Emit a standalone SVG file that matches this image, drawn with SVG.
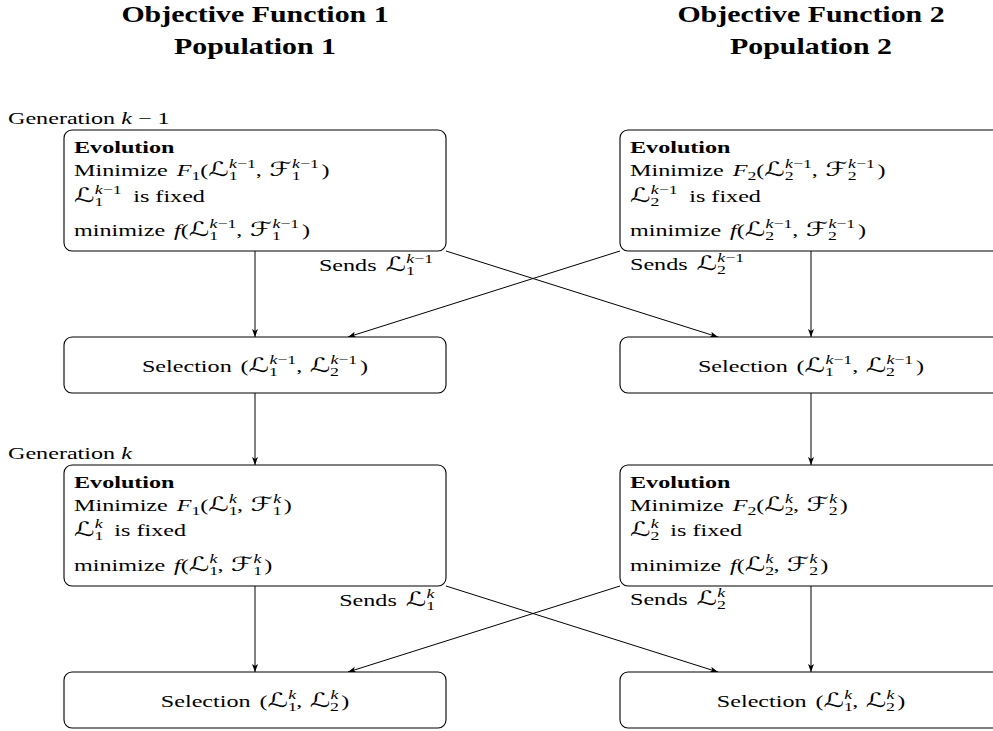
<svg xmlns="http://www.w3.org/2000/svg" width="993" height="731" viewBox="0 0 993 731">
<style>
.t{font-family:"Liberation Serif","Times New Roman",serif;font-size:17px;fill:#000}
.ttl{font-family:"Liberation Serif","Times New Roman",serif;font-weight:bold;font-size:23px;text-anchor:middle;fill:#000}
.b{font-weight:bold}
.i{font-style:italic}
.sc{font-family:"DejaVu Serif","DejaVu Sans",serif;font-size:20px;font-style:italic}
.sm{font-size:12.5px}
.mid{text-anchor:middle}
.end{text-anchor:end}
.box{fill:#fff;stroke:#000;stroke-width:1.1}
.conn{stroke:#000;stroke-width:1;fill:none;marker-end:url(#ah)}
</style>
<defs>
<marker id="ah" viewBox="0 0 8 6" refX="8" refY="3" markerWidth="8" markerHeight="6" orient="auto" markerUnits="userSpaceOnUse">
<path d="M0,0 L8,3 L0,6 L2,3 Z" fill="#000"/>
</marker>
</defs>
<rect width="993" height="731" fill="#fff"/>

<g id="titles">
<g transform="translate(255,0) scale(1.3,1)">
<text class="ttl" x="0" y="22">Objective Function 1</text>
<text class="ttl" x="0" y="54">Population 1</text>
</g>
<g transform="translate(811,0) scale(1.3,1)">
<text class="ttl" x="0" y="22">Objective Function 2</text>
<text class="ttl" x="0" y="54">Population 2</text>
</g>
</g>

<g id="gen-labels">
<g transform="translate(8,124) scale(1.42,1)"><text class="t" x="0" y="0">Generation <tspan class="i">k</tspan> − 1</text></g>
<g transform="translate(8,459) scale(1.42,1)"><text class="t" x="0" y="0">Generation <tspan class="i">k</tspan></text></g>
</g>

<g id="connectors">
<line class="conn" x1="255" y1="251" x2="255" y2="337"/>
<line class="conn" x1="811" y1="251" x2="811" y2="337"/>
<line class="conn" x1="446" y1="251" x2="718" y2="337"/>
<line class="conn" x1="620" y1="251" x2="348" y2="337"/>
<line class="conn" x1="255" y1="393" x2="255" y2="465"/>
<line class="conn" x1="811" y1="393" x2="811" y2="465"/>
<line class="conn" x1="255" y1="586" x2="255" y2="672"/>
<line class="conn" x1="811" y1="586" x2="811" y2="672"/>
<line class="conn" x1="446" y1="586" x2="718" y2="672"/>
<line class="conn" x1="620" y1="586" x2="348" y2="672"/>
<g transform="translate(433,271) scale(1.42,1)"><text class="t end" x="0" y="0">Sends <tspan class="sc" dx="2">ℒ</tspan><tspan class="sm" dy="4">1</tspan><tspan class="sm" dx="-6" dy="-12"><tspan class="i">k</tspan>−1</tspan></text></g>
<g transform="translate(630,270) scale(1.42,1)"><text class="t" x="0" y="0">Sends <tspan class="sc" dx="2">ℒ</tspan><tspan class="sm" dy="4">2</tspan><tspan class="sm" dx="-6" dy="-12"><tspan class="i">k</tspan>−1</tspan></text></g>
<g transform="translate(435,606) scale(1.42,1)"><text class="t end" x="0" y="0">Sends <tspan class="sc" dx="2">ℒ</tspan><tspan class="sm" dy="4">1</tspan><tspan class="sm i" dx="-6" dy="-12">k</tspan></text></g>
<g transform="translate(630,605) scale(1.42,1)"><text class="t" x="0" y="0">Sends <tspan class="sc" dx="2">ℒ</tspan><tspan class="sm" dy="4">2</tspan><tspan class="sm i" dx="-6" dy="-12">k</tspan></text></g>
</g>

<g id="evo1-k1">
<rect class="box" x="64" y="130" width="382" height="121" rx="8"/>
<g transform="translate(74,130) scale(1.42,1)">
<text class="t b" x="0" y="22.7">Evolution</text>
<text class="t" x="0" y="46.5">Minimize <tspan class="i" dx="2">F</tspan><tspan class="sm" dy="4">1</tspan><tspan dy="-4">(</tspan><tspan class="sc">ℒ</tspan><tspan class="sm" dy="4">1</tspan><tspan class="sm" dx="-6" dy="-12"><tspan class="i">k</tspan>−1</tspan><tspan dy="8">, </tspan><tspan class="sc" dx="1">ℱ</tspan><tspan class="sm" dy="4">1</tspan><tspan class="sm" dx="-6" dy="-12"><tspan class="i">k</tspan>−1</tspan><tspan dy="8" dx="2">)</tspan></text>
<text class="t" x="0" y="72"><tspan class="sc">ℒ</tspan><tspan class="sm" dy="4">1</tspan><tspan class="sm" dx="-6" dy="-12"><tspan class="i">k</tspan>−1</tspan><tspan dy="8" dx="4"> is fixed</tspan></text>
<text class="t" x="0" y="106.5">minimize <tspan class="i" dx="2">f</tspan>(<tspan class="sc">ℒ</tspan><tspan class="sm" dy="4">1</tspan><tspan class="sm" dx="-6" dy="-12"><tspan class="i">k</tspan>−1</tspan><tspan dy="8">, </tspan><tspan class="sc" dx="1">ℱ</tspan><tspan class="sm" dy="4">1</tspan><tspan class="sm" dx="-6" dy="-12"><tspan class="i">k</tspan>−1</tspan><tspan dy="8" dx="2">)</tspan></text>
</g>
</g>

<g id="evo2-k1">
<rect class="box" x="620" y="130" width="382" height="121" rx="8"/>
<g transform="translate(630,130) scale(1.42,1)">
<text class="t b" x="0" y="22.7">Evolution</text>
<text class="t" x="0" y="46.5">Minimize <tspan class="i" dx="2">F</tspan><tspan class="sm" dy="4">2</tspan><tspan dy="-4">(</tspan><tspan class="sc">ℒ</tspan><tspan class="sm" dy="4">2</tspan><tspan class="sm" dx="-6" dy="-12"><tspan class="i">k</tspan>−1</tspan><tspan dy="8">, </tspan><tspan class="sc" dx="1">ℱ</tspan><tspan class="sm" dy="4">2</tspan><tspan class="sm" dx="-6" dy="-12"><tspan class="i">k</tspan>−1</tspan><tspan dy="8" dx="2">)</tspan></text>
<text class="t" x="0" y="72"><tspan class="sc">ℒ</tspan><tspan class="sm" dy="4">2</tspan><tspan class="sm" dx="-6" dy="-12"><tspan class="i">k</tspan>−1</tspan><tspan dy="8" dx="4"> is fixed</tspan></text>
<text class="t" x="0" y="106.5">minimize <tspan class="i" dx="2">f</tspan>(<tspan class="sc">ℒ</tspan><tspan class="sm" dy="4">2</tspan><tspan class="sm" dx="-6" dy="-12"><tspan class="i">k</tspan>−1</tspan><tspan dy="8">, </tspan><tspan class="sc" dx="1">ℱ</tspan><tspan class="sm" dy="4">2</tspan><tspan class="sm" dx="-6" dy="-12"><tspan class="i">k</tspan>−1</tspan><tspan dy="8" dx="2">)</tspan></text>
</g>
</g>

<g id="sel1-k1">
<rect class="box" x="64" y="337" width="382" height="56" rx="8"/>
<g transform="translate(255,372) scale(1.42,1)">
<text class="t mid" x="0" y="0">Selection <tspan dx="2">(</tspan><tspan class="sc">ℒ</tspan><tspan class="sm" dy="4">1</tspan><tspan class="sm" dx="-6" dy="-12"><tspan class="i">k</tspan>−1</tspan><tspan dy="8">, </tspan><tspan class="sc" dx="1">ℒ</tspan><tspan class="sm" dy="4">2</tspan><tspan class="sm" dx="-6" dy="-12"><tspan class="i">k</tspan>−1</tspan><tspan dy="8" dx="2">)</tspan></text>
</g>
</g>

<g id="sel2-k1">
<rect class="box" x="620" y="337" width="382" height="56" rx="8"/>
<g transform="translate(811,372) scale(1.42,1)">
<text class="t mid" x="0" y="0">Selection <tspan dx="2">(</tspan><tspan class="sc">ℒ</tspan><tspan class="sm" dy="4">1</tspan><tspan class="sm" dx="-6" dy="-12"><tspan class="i">k</tspan>−1</tspan><tspan dy="8">, </tspan><tspan class="sc" dx="1">ℒ</tspan><tspan class="sm" dy="4">2</tspan><tspan class="sm" dx="-6" dy="-12"><tspan class="i">k</tspan>−1</tspan><tspan dy="8" dx="2">)</tspan></text>
</g>
</g>

<g id="evo1-k">
<rect class="box" x="64" y="465" width="382" height="121" rx="8"/>
<g transform="translate(74,465) scale(1.42,1)">
<text class="t b" x="0" y="22.7">Evolution</text>
<text class="t" x="0" y="46.5">Minimize <tspan class="i" dx="2">F</tspan><tspan class="sm" dy="4">1</tspan><tspan dy="-4">(</tspan><tspan class="sc">ℒ</tspan><tspan class="sm" dy="4">1</tspan><tspan class="sm i" dx="-6" dy="-12">k</tspan><tspan dy="8">, </tspan><tspan class="sc" dx="1">ℱ</tspan><tspan class="sm" dy="4">1</tspan><tspan class="sm i" dx="-6" dy="-12">k</tspan><tspan dy="8" dx="2">)</tspan></text>
<text class="t" x="0" y="71"><tspan class="sc">ℒ</tspan><tspan class="sm" dy="4">1</tspan><tspan class="sm i" dx="-6" dy="-12">k</tspan><tspan dy="8" dx="4"> is fixed</tspan></text>
<text class="t" x="0" y="106.5">minimize <tspan class="i" dx="2">f</tspan>(<tspan class="sc">ℒ</tspan><tspan class="sm" dy="4">1</tspan><tspan class="sm i" dx="-6" dy="-12">k</tspan><tspan dy="8">, </tspan><tspan class="sc" dx="1">ℱ</tspan><tspan class="sm" dy="4">1</tspan><tspan class="sm i" dx="-6" dy="-12">k</tspan><tspan dy="8" dx="2">)</tspan></text>
</g>
</g>

<g id="evo2-k">
<rect class="box" x="620" y="465" width="382" height="121" rx="8"/>
<g transform="translate(630,465) scale(1.42,1)">
<text class="t b" x="0" y="22.7">Evolution</text>
<text class="t" x="0" y="46.5">Minimize <tspan class="i" dx="2">F</tspan><tspan class="sm" dy="4">2</tspan><tspan dy="-4">(</tspan><tspan class="sc">ℒ</tspan><tspan class="sm" dy="4">2</tspan><tspan class="sm i" dx="-6" dy="-12">k</tspan><tspan dy="8">, </tspan><tspan class="sc" dx="1">ℱ</tspan><tspan class="sm" dy="4">2</tspan><tspan class="sm i" dx="-6" dy="-12">k</tspan><tspan dy="8" dx="2">)</tspan></text>
<text class="t" x="0" y="71"><tspan class="sc">ℒ</tspan><tspan class="sm" dy="4">2</tspan><tspan class="sm i" dx="-6" dy="-12">k</tspan><tspan dy="8" dx="4"> is fixed</tspan></text>
<text class="t" x="0" y="106.5">minimize <tspan class="i" dx="2">f</tspan>(<tspan class="sc">ℒ</tspan><tspan class="sm" dy="4">2</tspan><tspan class="sm i" dx="-6" dy="-12">k</tspan><tspan dy="8">, </tspan><tspan class="sc" dx="1">ℱ</tspan><tspan class="sm" dy="4">2</tspan><tspan class="sm i" dx="-6" dy="-12">k</tspan><tspan dy="8" dx="2">)</tspan></text>
</g>
</g>

<g id="sel1-k">
<rect class="box" x="64" y="672" width="382" height="56" rx="8"/>
<g transform="translate(255,707) scale(1.42,1)">
<text class="t mid" x="0" y="0">Selection <tspan dx="2">(</tspan><tspan class="sc">ℒ</tspan><tspan class="sm" dy="4">1</tspan><tspan class="sm i" dx="-6" dy="-12">k</tspan><tspan dy="8">, </tspan><tspan class="sc" dx="1">ℒ</tspan><tspan class="sm" dy="4">2</tspan><tspan class="sm i" dx="-6" dy="-12">k</tspan><tspan dy="8" dx="2">)</tspan></text>
</g>
</g>

<g id="sel2-k">
<rect class="box" x="620" y="672" width="382" height="56" rx="8"/>
<g transform="translate(811,707) scale(1.42,1)">
<text class="t mid" x="0" y="0">Selection <tspan dx="2">(</tspan><tspan class="sc">ℒ</tspan><tspan class="sm" dy="4">1</tspan><tspan class="sm i" dx="-6" dy="-12">k</tspan><tspan dy="8">, </tspan><tspan class="sc" dx="1">ℒ</tspan><tspan class="sm" dy="4">2</tspan><tspan class="sm i" dx="-6" dy="-12">k</tspan><tspan dy="8" dx="2">)</tspan></text>
</g>
</g>
</svg>
